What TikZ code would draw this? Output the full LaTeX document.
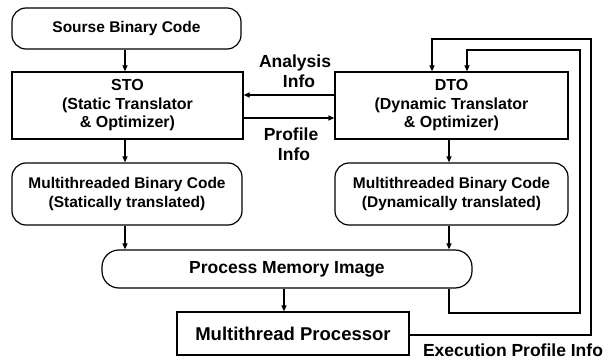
\documentclass[tikz,border=0pt]{standalone}
\usepackage{fontspec}
\setmainfont{Liberation Sans}
\usetikzlibrary{arrows.meta,calc}
\begin{document}
\begin{tikzpicture}[x=1pt,y=-1pt,
  every node/.style={align=center},
  box/.style={draw, line width=1.2pt, inner sep=0pt},
  roundbox/.style={box, rounded corners=14pt},
  link/.style={line width=1.2pt, -{Triangle[length=6pt,width=5pt]}},
  small/.style={font=\bfseries\fontsize{15.5}{18.5}\selectfont},
  mid/.style={font=\bfseries\fontsize{16}{18.5}\selectfont},
  large/.style={font=\bfseries\fontsize{18.5}{21}\selectfont},
  lbl/.style={font=\bfseries\fontsize{17.5}{20}\selectfont}]
\useasboundingbox (0,0) rectangle (608,361);

% boxes
\node[roundbox, small, minimum width=229pt, minimum height=41pt] (src) at (126.5,28.5) {Sourse Binary Code};
\node[box, mid, minimum width=231pt, minimum height=67pt] (sto) at (127.5,105.5) {STO\\(Static Translator\\\& Optimizer)};
\node[box, mid, minimum width=233pt, minimum height=67pt] (dto) at (451.5,105.5) {DTO\\(Dynamic Translator\\\& Optimizer)};
\node[roundbox, small, minimum width=230pt, minimum height=62pt] (mbcl) at (127,194) {Multithreaded Binary Code\\(Statically translated)};
\node[roundbox, small, minimum width=233pt, minimum height=62pt] (mbcr) at (451.5,194) {Multithreaded Binary Code\\(Dynamically translated)};
\node[roundbox, lbl, rounded corners=17pt, minimum width=370pt, minimum height=38pt] (pmi) at (287,269) {Process Memory Image};
\node[box, large, minimum width=232pt, minimum height=43pt] (mtp) at (293,333.5) {Multithread Processor};

% labels
\node[lbl] (la) at (295,71) {Analysis\\\hspace*{8pt}Info};
\node[lbl] (lp) at (291,144) {Profile\\\hspace*{6pt}Info};
\node[lbl] (le) at (513,350) {Execution Profile Info};

% guide coordinates
\coordinate (lx) at (125,0);
\coordinate (rx) at (449,0);
\coordinate (mx) at (284,0);
\coordinate (ya) at (0,95);
\coordinate (yp) at (0,118);
\coordinate (c1) at (580,313);
\coordinate (c2) at (467,50);
\coordinate (c3) at (591,335);
\coordinate (c4) at (432,39);

% vertical flow
\draw[link] (lx |- src.south) -- (lx |- sto.north);
\draw[link] (lx |- sto.south) -- (lx |- mbcl.north);
\draw[link] (lx |- mbcl.south) -- (lx |- pmi.north);
\draw[link] (rx |- dto.south) -- (rx |- mbcr.north);
\draw[link] (rx |- mbcr.south) -- (rx |- pmi.north);
\draw[link] (mx |- pmi.south) -- (mx |- mtp.north);

% exchange between STO and DTO
\draw[link] (dto.west |- ya) -- (sto.east |- ya);
\draw[link] (sto.east |- yp) -- (dto.west |- yp);

% feedback loops
\draw[link] (rx |- pmi.south) |- (c1) |- (c2) -- (c2 |- dto.north);
\draw[link] (mtp.east |- c3) -- (c3) |- (c4) -- (c4 |- dto.north);
\end{tikzpicture}
\end{document}
